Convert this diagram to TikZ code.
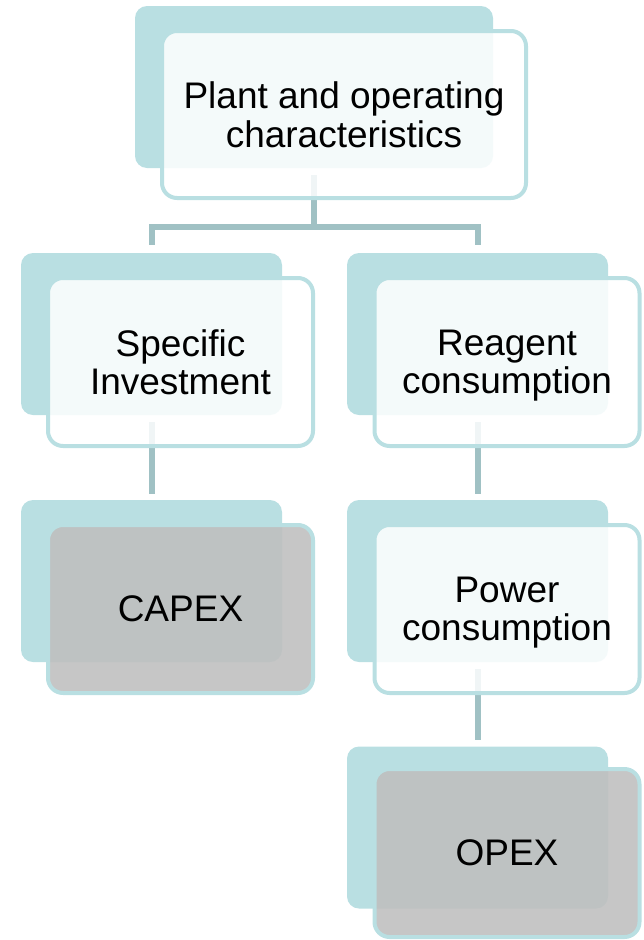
\documentclass[tikz,border=0pt]{standalone}
\usepackage{fontspec}
\setmainfont{Liberation Sans}

\definecolor{boxteal}{HTML}{B9DFE2}
\definecolor{linkgrey}{HTML}{A0C1C4}
\definecolor{costgrey}{HTML}{BFBFBF}

\tikzset{
  back/.style={fill=boxteal, rounded corners=12pt, minimum width=261pt,
    minimum height=162pt, inner sep=0pt},
  front/.style={draw=boxteal, line width=4pt, fill=white, fill opacity=0.85,
    text opacity=1, rounded corners=15pt, minimum width=265pt,
    minimum height=168pt, inner sep=0pt, align=center, text depth=0pt,
    font=\fontsize{37}{38.5}\selectfont},
  cost/.style={front, fill=costgrey, fill opacity=0.89},
  link/.style={draw=linkgrey, line width=6pt, line join=miter}
}

\begin{document}
\begin{tikzpicture}[x=1pt, y=-1pt]

  \useasboundingbox (0,0) rectangle (644,940);

  % back plates
  \node[back, minimum width=358pt] (plantB) at (314, 87) {};
  \node[back] (invB) at (151.5, 334) {};
  \node[back] (capexB) at (151.5, 581) {};
  \node[back] (reagB) at (477.5, 334) {};
  \node[back] (powB) at (477.5, 581) {};
  \node[back] (opexB) at (477.5, 827.5) {};

  % connectors
  \coordinate (fork) at (314, 227);
  \draw[link] ([yshift=-7pt]plantB.south) -- (fork);
  \draw[link] ([yshift=8pt]invB.north) |- (fork) -| ([yshift=8pt]reagB.north);
  \draw[link] ([yshift=-7pt]invB.south) -- ([yshift=6pt]capexB.north);
  \draw[link] ([yshift=-7pt]reagB.south) -- ([yshift=6pt]powB.north);
  \draw[link] ([yshift=-7pt]powB.south) -- ([yshift=6pt]opexB.north);

  % front boxes
  \node[front, minimum width=364pt, minimum height=167pt] (plant) at (344, 114.5)
    {Plant and operating\\characteristics};
  \node[front] (inv) at (180.5, 362) {Specific\\Investment};
  \node[cost] (capex) at (180.5, 609) {CAPEX};
  \node[front] (reag) at (507, 362) {Reagent\\consumption};
  \node[front] (pow) at (507, 609) {Power\\consumption};
  \node[cost] (opex) at (507, 853) {OPEX};

\end{tikzpicture}
\end{document}
